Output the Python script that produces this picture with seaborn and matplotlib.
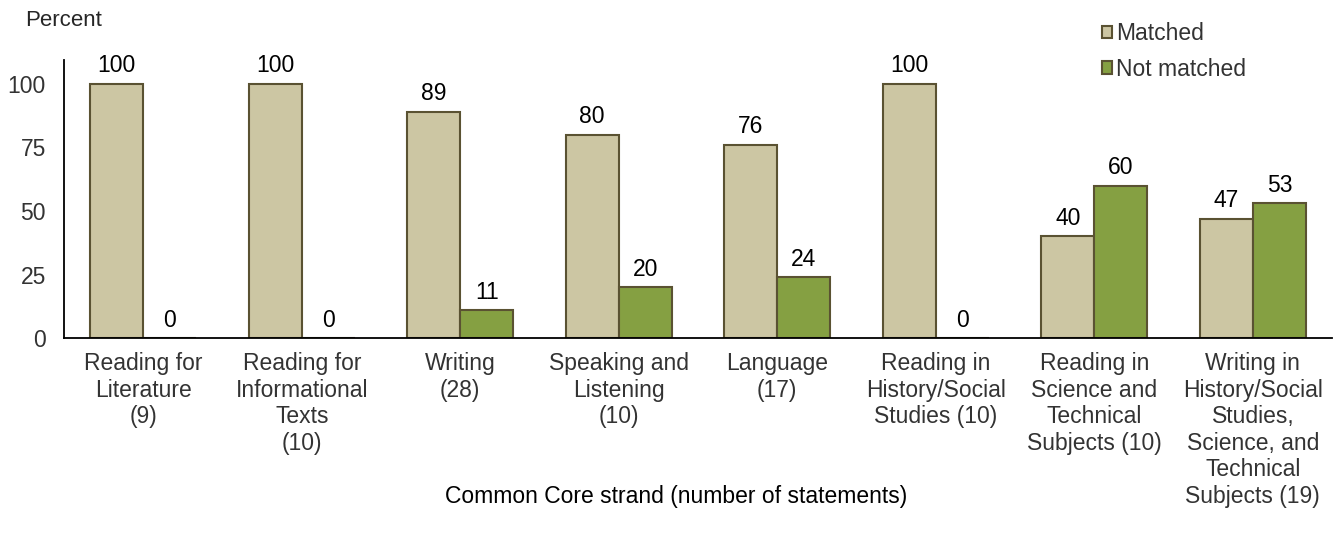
import matplotlib
matplotlib.use("Agg")
import matplotlib.pyplot as plt
import seaborn as sns
import pandas as pd
from matplotlib.patches import Patch

categories = [
    "Reading for\nLiterature\n(9)",
    "Reading for\nInformational\nTexts\n(10)",
    "Writing\n(28)",
    "Speaking and\nListening\n(10)",
    "Language\n(17)",
    "Reading in\nHistory/Social\nStudies (10)",
    "Reading in\nScience and\nTechnical\nSubjects (10)",
    "Writing in\nHistory/Social\nStudies,\nScience, and\nTechnical\nSubjects (19)",
]
matched = [100, 100, 89, 80, 76, 100, 40, 47]
not_matched = [0, 0, 11, 20, 24, 0, 60, 53]
series = ["Matched", "Not matched"]
colors = {"Matched": "#CCC6A3", "Not matched": "#85A042"}
yticks = [0, 25, 50, 75, 100]

sns.set_theme(style="white")
plt.rcParams["font.family"] = ["Liberation Sans", "DejaVu Sans"]

df = pd.DataFrame({
    "category": categories * 2,
    "series": [series[0]] * len(categories) + [series[1]] * len(categories),
    "value": matched + not_matched,
})

FS = 16.5

fig = plt.figure(figsize=(13.37, 5.35), dpi=100)
ax = fig.add_axes([0.0479, 0.368, 0.9484, 0.52])

sns.barplot(data=df, x="category", y="value", hue="series", order=categories,
            hue_order=series, palette=colors, width=0.67, ax=ax,
            edgecolor="#5A5232", linewidth=1.5, legend=False, saturation=1)

for cont in ax.containers:
    for bar in cont:
        h = bar.get_height()
        ax.annotate(f"{h:.0f}", (bar.get_x() + bar.get_width() / 2, h),
                    xytext=(0, 13), textcoords="offset points",
                    ha="center", va="center", fontsize=FS, color="black")

ax.set_ylim(0, 109.4)
ax.set_xlim(-0.5, len(categories) - 0.5)
ax.set_yticks(yticks)
ax.set_yticklabels([str(t) for t in yticks], fontsize=FS, color="#333333")
ax.tick_params(axis="x", labelsize=FS, labelcolor="#333333", length=0, pad=10)
ax.tick_params(axis="y", length=0, pad=13)
for lbl in ax.get_xticklabels():
    lbl.set_linespacing(1.2)
ax.set_xlabel("")
ax.set_ylabel("")
for s in ["top", "right"]:
    ax.spines[s].set_visible(False)
for s in ["left", "bottom"]:
    ax.spines[s].set_color("black")
    ax.spines[s].set_linewidth(1.3)

fig.text(25 / 1337, 1 - 21 / 535, "Percent", fontsize=FS - 0.5, ha="left", va="center")
fig.text(676 / 1337, 1 - 496 / 535, "Common Core strand (number of statements)",
         fontsize=FS, ha="center", va="center", color="black")

handles = [Patch(facecolor=colors[s], edgecolor="#5A5232", linewidth=1.5) for s in series]
fig.legend(handles, series, loc="upper left", bbox_to_anchor=(1102 / 1337, 1 - 22 / 535),
           frameon=False, fontsize=FS, handlelength=0.45, handleheight=0.45,
           handletextpad=0.15, labelspacing=0.55, labelcolor="#333333",
           borderaxespad=0, borderpad=0)

fig.savefig("out.png", dpi=100)
